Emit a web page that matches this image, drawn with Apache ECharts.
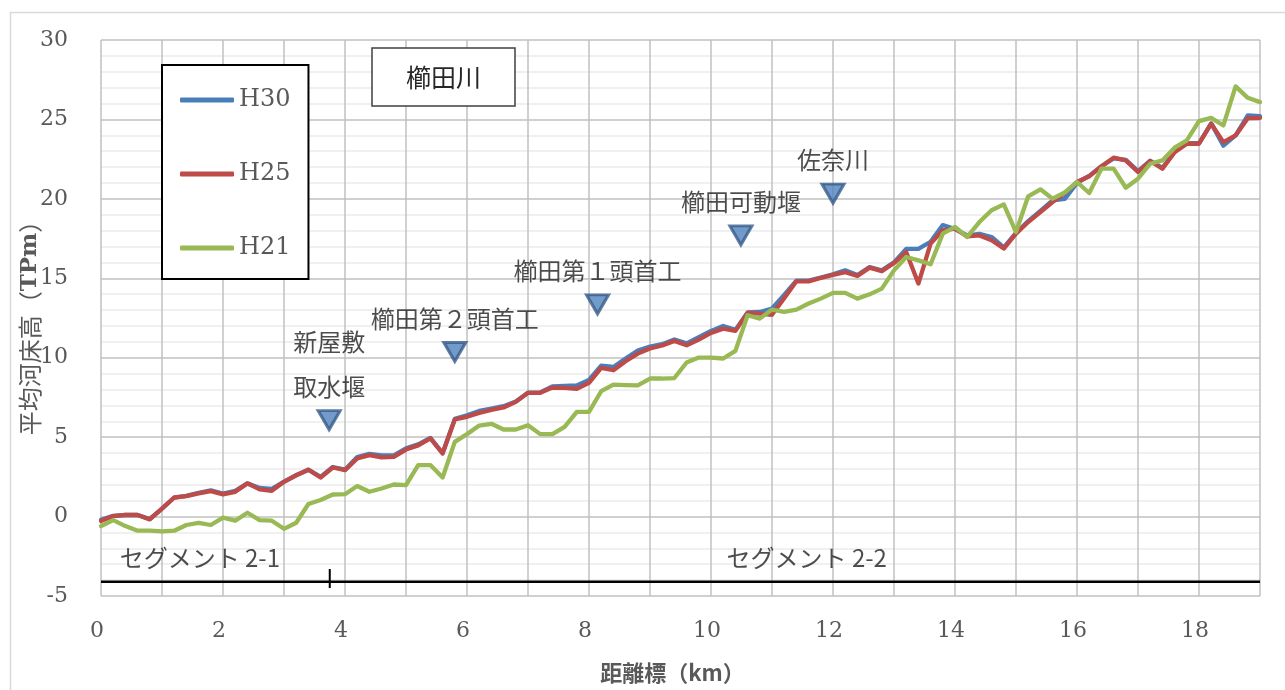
<!DOCTYPE html>
<html lang="ja">
<head>
<meta charset="utf-8">
<title>櫛田川 平均河床高</title>
<script src="https://cdn.jsdelivr.net/npm/echarts@6/dist/echarts.min.js"></script>
<style>
  html, body { margin: 0; padding: 0; background: #ffffff; }
  #chart { width: 1285px; height: 690px; }
</style>
</head>
<body>
<div id="chart"></div>
<script>
// 距離標 (km), 200 m pitch
const stations = [
  0.0, 0.2, 0.4, 0.6, 0.8, 1.0, 1.2, 1.4, 1.6, 1.8,
  2.0, 2.2, 2.4, 2.6, 2.8, 3.0, 3.2, 3.4, 3.6, 3.8,
  4.0, 4.2, 4.4, 4.6, 4.8, 5.0, 5.2, 5.4, 5.6, 5.8,
  6.0, 6.2, 6.4, 6.6, 6.8, 7.0, 7.2, 7.4, 7.6, 7.8,
  8.0, 8.2, 8.4, 8.6, 8.8, 9.0, 9.2, 9.4, 9.6, 9.8,
  10.0, 10.2, 10.4, 10.6, 10.8, 11.0, 11.2, 11.4, 11.6, 11.8,
  12.0, 12.2, 12.4, 12.6, 12.8, 13.0, 13.2, 13.4, 13.6, 13.8,
  14.0, 14.2, 14.4, 14.6, 14.8, 15.0, 15.2, 15.4, 15.6, 15.8,
  16.0, 16.2, 16.4, 16.6, 16.8, 17.0, 17.2, 17.4, 17.6, 17.8,
  18.0, 18.2, 18.4, 18.6, 18.8, 19.0
];

// 平均河床高 (TPm)
const h30 = [
  -0.2, 0.05, 0.1, 0.1, -0.15, 0.5, 1.2, 1.3, 1.5, 1.65,
  1.45, 1.62, 2.09, 1.8, 1.75, 2.2, 2.6, 2.95, 2.5, 3.12,
  2.95, 3.75, 3.95, 3.85, 3.85, 4.3, 4.55, 4.95, 4.0, 6.15,
  6.38, 6.65, 6.8, 6.95, 7.25, 7.8, 7.82, 8.2, 8.22, 8.25,
  8.6, 9.5, 9.42, 9.95, 10.45, 10.7, 10.85, 11.15, 10.9, 11.3,
  11.68, 12.0, 11.75, 12.85, 12.88, 13.1, 13.95, 14.85, 14.85, 15.05,
  15.25, 15.5, 15.2, 15.7, 15.5, 16.0, 16.85, 16.85, 17.3, 18.35,
  18.1, 17.7, 17.8, 17.6, 16.95, 17.85, 18.6, 19.25, 19.9, 20.0,
  21.0, 21.45, 22.05, 22.55, 22.45, 21.75, 22.4, 21.95, 22.95, 23.5,
  23.5, 24.75, 23.35, 24.0, 25.25, 25.2
];
const h25 = [
  -0.28, 0.03, 0.1, 0.1, -0.18, 0.5, 1.2, 1.29, 1.46, 1.6,
  1.4, 1.56, 2.09, 1.71, 1.62, 2.19, 2.6, 2.95, 2.46, 3.09,
  2.92, 3.66, 3.87, 3.72, 3.76, 4.22, 4.48, 4.92, 3.97, 6.11,
  6.28, 6.53, 6.72, 6.87, 7.22, 7.79, 7.79, 8.12, 8.1, 8.04,
  8.42, 9.36, 9.21, 9.78, 10.26, 10.58, 10.77, 11.06, 10.78, 11.14,
  11.56, 11.83, 11.69, 12.82, 12.78, 12.7, 13.75, 14.81, 14.81, 15.02,
  15.21, 15.38, 15.15, 15.67, 15.45, 15.96, 16.65, 14.67, 17.18, 18.02,
  18.12, 17.64, 17.7, 17.39, 16.87, 17.81, 18.54, 19.17, 19.8, 20.37,
  21.06, 21.42, 22.04, 22.59, 22.42, 21.69, 22.38, 21.9, 22.94, 23.47,
  23.47, 24.73, 23.57, 23.99, 25.08, 25.1
];
const h21 = [
  -0.6, -0.22, -0.6, -0.89, -0.89, -0.93, -0.89, -0.53, -0.39, -0.53,
  -0.07, -0.26, 0.24, -0.22, -0.26, -0.77, -0.39, 0.79, 1.04, 1.39,
  1.41, 1.92, 1.56, 1.77, 2.02, 1.98, 3.24, 3.24, 2.46, 4.7,
  5.19, 5.73, 5.84, 5.48, 5.48, 5.75, 5.19, 5.19, 5.65, 6.59,
  6.59, 7.89, 8.31, 8.28, 8.26, 8.69, 8.69, 8.72, 9.7, 10.01,
  10.0, 9.95, 10.43, 12.67, 12.46, 13.03, 12.88, 13.03, 13.41, 13.72,
  14.08, 14.08, 13.72, 13.99, 14.35, 15.5, 16.34, 16.13, 15.88, 17.81,
  18.23, 17.6, 18.54, 19.28, 19.65, 17.91, 20.16, 20.6, 20.01, 20.4,
  21.06, 20.37, 21.9, 21.9, 20.7, 21.27, 22.21, 22.42, 23.22, 23.68,
  24.89, 25.1, 24.62, 27.08, 26.36, 26.09
];

// 河川横断構造物・支川合流点
const structureNames = ['新屋敷\n取水堰', '櫛田第２頭首工', '櫛田第１頭首工', '櫛田可動堰', '佐奈川'];
const structureKm = [3.74, 5.8, 8.14, 10.49, 12.0];
const structureLevel = [6.07, 10.36, 13.36, 17.7, 20.33];

// セグメント区分
const segmentNames = ['セグメント 2-1', 'セグメント 2-2'];
const segmentLabelKm = [1.62, 11.57];
const segmentLabelLevel = [-2.6, -2.6];
const segmentLineLevel = -4.1;
const segmentBoundaryKm = 3.75;
const segmentTickRange = [-3.3, -4.5];

const xTicks = [0, 2, 4, 6, 8, 10, 12, 14, 16, 18];

const seriesNames = ['H30', 'H25', 'H21'];
const seriesColors = ['#4a7ebb', '#be4b48', '#98b954'];
const seriesValues = [h30, h25, h21];

const serif = '"DejaVu Serif", "Liberation Serif", serif';
const cjk = '"Noto Sans CJK JP", "Noto Sans CJK SC", sans-serif';
const axisGrey = '#595959';

const chart = echarts.init(document.getElementById('chart'), null, { renderer: 'canvas' });

const lineSeries = seriesNames.map((name, i) => ({
  name: name,
  type: 'line',
  data: stations.map((k, j) => [k, seriesValues[i][j]]),
  symbol: 'none',
  smooth: false,
  color: seriesColors[i],
  lineStyle: { width: 4.3, color: seriesColors[i], join: 'round', cap: 'round' },
  z: 3 + i,
  silent: true
}));

const option = {
  animation: false,
  backgroundColor: '#ffffff',
  title: {
    text: '櫛田川',
    left: 372,
    top: 48,
    padding: [14, 34, 14, 34],
    backgroundColor: '#ffffff',
    borderColor: '#404040',
    borderWidth: 1.5,
    z: 20,
    textStyle: { fontFamily: cjk, fontSize: 25, fontWeight: 'normal', color: '#262626', lineHeight: 30 }
  },
  grid: { left: 101, right: 25, top: 40, bottom: 94, containLabel: false },
  xAxis: {
    type: 'value',
    min: 0,
    max: 19,
    interval: 1,
    name: '距離標（km）',
    nameLocation: 'middle',
    nameGap: 66,
    nameTextStyle: { fontFamily: cjk, fontWeight: 'bold', fontSize: 22, color: axisGrey, padding: [0, 16, 0, 0] },
    axisLine: { show: false },
    axisTick: { show: false },
    axisLabel: {
      fontFamily: serif,
      fontSize: 22,
      color: axisGrey,
      margin: 24,
      padding: [0, 8, 0, 0],
      formatter: v => (xTicks.indexOf(v) >= 0 ? String(v) : '')
    },
    splitLine: { show: true, lineStyle: { color: '#c0c0c0', width: 1.5 } }
  },
  yAxis: {
    type: 'value',
    min: -5,
    max: 30,
    interval: 5,
    name: '平均河床高（{t|TPm}）',
    nameLocation: 'middle',
    nameGap: 59,
    nameMoveOverlap: false,
    nameTextStyle: {
      fontFamily: cjk, fontSize: 24, color: axisGrey, padding: [0, 8, 0, 0],
      rich: { t: { fontFamily: serif, fontWeight: 'bold', fontSize: 23, color: axisGrey } }
    },
    axisLine: { show: false },
    axisTick: { show: false },
    axisLabel: { fontFamily: serif, fontSize: 22, color: axisGrey, margin: 33 },
    splitLine: { show: true, lineStyle: { color: '#c0c0c0', width: 1.5 } },
    minorTick: { show: false, splitNumber: 5 },
    minorSplitLine: { show: true, lineStyle: { color: '#ebebeb', width: 1.5 } }
  },
  legend: {
    data: seriesNames,
    orient: 'vertical',
    left: 162,
    top: 65,
    padding: [22, 18, 18, 18],
    icon: 'roundRect',
    itemWidth: 54,
    itemHeight: 5,
    itemGap: 48,
    backgroundColor: '#ffffff',
    borderColor: '#000000',
    borderWidth: 2,
    borderRadius: 0,
    selectedMode: false,
    z: 20,
    textStyle: { fontFamily: serif, fontSize: 24, color: axisGrey, lineHeight: 26 }
  },
  graphic: [
    {
      type: 'rect',
      left: 8, top: 10,
      shape: { width: 1300, height: 700 },
      style: { fill: 'none', stroke: '#d9d9d9', lineWidth: 1.5 },
      silent: true,
      z: -10
    }
  ],
  series: [
    ...lineSeries,
    {
      name: 'segment-line',
      type: 'line',
      data: [[0, segmentLineLevel], [19, segmentLineLevel]],
      symbol: 'none',
      lineStyle: { color: '#000000', width: 2.5 },
      silent: true,
      z: 6
    },
    {
      name: 'segment-boundary',
      type: 'line',
      data: segmentTickRange.map(v => [segmentBoundaryKm, v]),
      symbol: 'none',
      lineStyle: { color: '#000000', width: 2 },
      silent: true,
      z: 6
    },
    {
      name: 'segment-labels',
      type: 'scatter',
      data: segmentNames.map((n, i) => ({ value: [segmentLabelKm[i], segmentLabelLevel[i]], name: n })),
      symbolSize: 0,
      silent: true,
      label: {
        show: true,
        position: 'inside',
        formatter: p => p.name,
        fontFamily: cjk,
        fontSize: 24,
        color: '#1f1f1f'
      },
      z: 7
    },
    {
      name: 'structures',
      type: 'scatter',
      data: structureNames.map((n, i) => ({ value: [structureKm[i], structureLevel[i]], name: n })),
      symbol: 'triangle',
      symbolRotate: 180,
      symbolSize: [22, 19],
      itemStyle: { color: '#4f81bd', borderColor: '#385d8a', borderWidth: 3 },
      silent: true,
      label: {
        show: true,
        position: 'top',
        distance: 0,
        formatter: p => p.name,
        fontFamily: cjk,
        fontSize: 24,
        lineHeight: 45,
        color: '#1f1f1f',
        align: 'center'
      },
      z: 8
    }
  ]
};

chart.setOption(option);
</script>
</body>
</html>
